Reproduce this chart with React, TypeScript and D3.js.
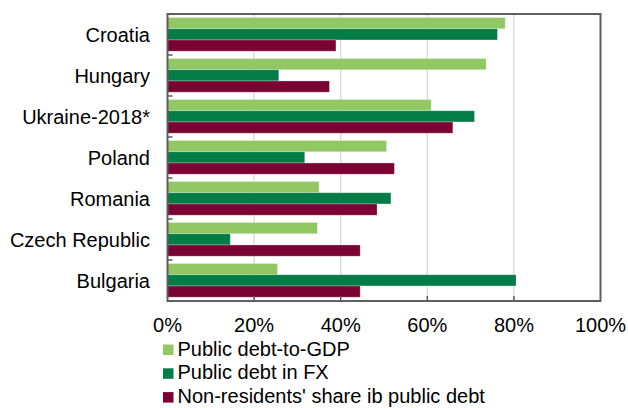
import React from "react";
import * as d3 from "d3";

const categories = ["Croatia", "Hungary", "Ukraine-2018*", "Poland", "Romania", "Czech Republic", "Bulgaria"];
const seriesNames = ["Public debt-to-GDP", "Public debt in FX", "Non-residents' share ib public debt"];
const debtToGdp = [78.0, 73.6, 60.9, 50.6, 35.0, 34.6, 25.4];
const debtInFx = [76.2, 25.7, 70.9, 31.7, 51.6, 14.5, 80.5];
const nonResidents = [38.9, 37.4, 65.9, 52.4, 48.4, 44.5, 44.5];
const xTicks = [0, 20, 40, 60, 80, 100];
const colors = ["#92C864", "#047C46", "#7A0334"];

const W = 628, H = 408;
const left = 167.5, right = 600.5, top = 14, bottom = 301;

export default function App() {
  const seriesValues = [debtToGdp, debtInFx, nonResidents];
  const x = d3.scaleLinear().domain([0, 100]).range([left, right]);
  const y = d3.scaleBand<string>().domain(categories).range([top, bottom]);
  const yi = d3.scaleBand<string>().domain(seriesNames).range([3.5, y.bandwidth() - 3.8]);
  const font = "'Liberation Sans', Arial, sans-serif";
  return (
    <svg width={W} height={H} style={{ position: "absolute", left: 0, top: 0, background: "#fff" }} fontFamily={font}>
      {xTicks.slice(1, -1).map((t) => (
        <line key={"g" + t} x1={x(t)} x2={x(t)} y1={top} y2={bottom} stroke="#D4D4D4" strokeWidth={1.2} />
      ))}
      {categories.map((c, i) => (
        <g key={c} transform={`translate(0,${y(c)})`}>
          {seriesNames.map((s, j) => (
            <rect key={s} x={x(0)} y={yi(s)} width={x(seriesValues[j][i]) - x(0)} height={yi.bandwidth()}
              fill={colors[j]} stroke="#ffffff" strokeOpacity={0.35} strokeWidth={0.8} />
          ))}
        </g>
      ))}
      {categories.slice(1).map((c) => (
        <line key={"t" + c} x1={left} x2={left + 5} y1={y(c)} y2={y(c)} stroke="#595959" strokeWidth={1.5} />
      ))}
      {xTicks.slice(1, -1).map((t) => (
        <line key={"xt" + t} x1={x(t)} x2={x(t)} y1={bottom - 5} y2={bottom} stroke="#595959" strokeWidth={1.5} />
      ))}
      <rect x={left} y={top} width={right - left} height={bottom - top} fill="none" stroke="#5F5F5F" strokeWidth={2} />
      {categories.map((c) => (
        <text key={"l" + c} x={150} y={(y(c) as number) + y.bandwidth() / 2} dy="0.35em" textAnchor="end" fontSize={20} fill="#000">
          {c}
        </text>
      ))}
      {xTicks.map((t) => (
        <text key={"xl" + t} x={x(t)} y={331.5} textAnchor="middle" fontSize={20} fill="#000">
          {t}%
        </text>
      ))}
      {seriesNames.map((s, j) => (
        <g key={"lg" + s} transform={`translate(0,${355.5 + j * 23.8})`}>
          <rect x={163} y={-11} width={10.5} height={10.5} fill={colors[j]} />
          <text x={177.5} y={0} fontSize={20} fill="#000">{s}</text>
        </g>
      ))}
    </svg>
  );
}
